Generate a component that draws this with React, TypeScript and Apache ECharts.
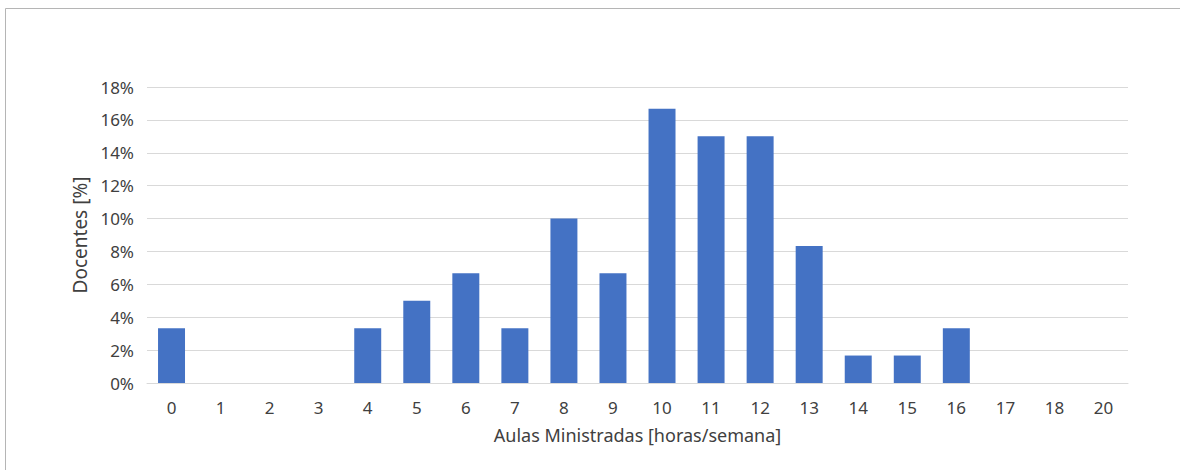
import React, { useEffect, useRef } from "react";
import * as echarts from "echarts";

const categories = ["0", "1", "2", "3", "4", "5", "6", "7", "8", "9", "10", "11", "12", "13", "14", "15", "16", "17", "18", "20"];
const docentesPct = [3.33, 0, 0, 0, 3.33, 5, 6.67, 3.33, 10, 6.67, 16.67, 15, 15, 8.33, 1.67, 1.67, 3.33, 0, 0, 0];
const yTicks = { min: 0, max: 18, interval: 2 };
const xName = "Aulas Ministradas [horas/semana]";
const yName = "Docentes [%]";

export default function App() {
  const ref = useRef<HTMLDivElement>(null);
  useEffect(() => {
    if (!ref.current) return;
    const chart = echarts.init(ref.current, null, { renderer: "svg" });
    const font = "'Noto Sans', 'Open Sans', sans-serif";
    chart.setOption({
      animation: false,
      backgroundColor: "#ffffff",
      textStyle: { fontFamily: font },
      grid: { left: 147, right: 52, top: 87, bottom: 87 },
      graphic: [
        { type: "line", shape: { x1: 5.5, y1: 8.5, x2: 1180, y2: 8.5 }, style: { stroke: "#b5b5b5", lineWidth: 1 } },
        { type: "line", shape: { x1: 5.5, y1: 8.5, x2: 5.5, y2: 470 }, style: { stroke: "#b5b5b5", lineWidth: 1 } },
      ],
      xAxis: {
        type: "category",
        data: categories,
        name: xName,
        nameLocation: "middle",
        nameGap: 43,
        nameTextStyle: { color: "#404040", fontSize: 18, fontFamily: font },
        axisLine: { lineStyle: { color: "#d9d9d9" } },
        axisTick: { show: false },
        axisLabel: { color: "#404040", fontSize: 17, margin: 16, fontFamily: font },
      },
      yAxis: {
        type: "value",
        min: yTicks.min,
        max: yTicks.max,
        interval: yTicks.interval,
        name: yName,
        nameLocation: "middle",
        nameGap: 56,
        nameTextStyle: { color: "#404040", fontSize: 19, fontFamily: font },
        axisLine: { show: false },
        axisTick: { show: false },
        splitLine: { lineStyle: { color: "#d9d9d9" } },
        axisLabel: { color: "#404040", fontSize: 17, margin: 13, formatter: "{value}%", fontFamily: font },
      },
      series: [
        {
          type: "bar",
          data: docentesPct,
          barWidth: "55%",
          itemStyle: { color: "#4472c4" },
        },
      ],
    });
    return () => chart.dispose();
  }, []);
  return <div ref={ref} style={{ position: "fixed", left: 0, top: 0, width: 1180, height: 470 }} />;
}
